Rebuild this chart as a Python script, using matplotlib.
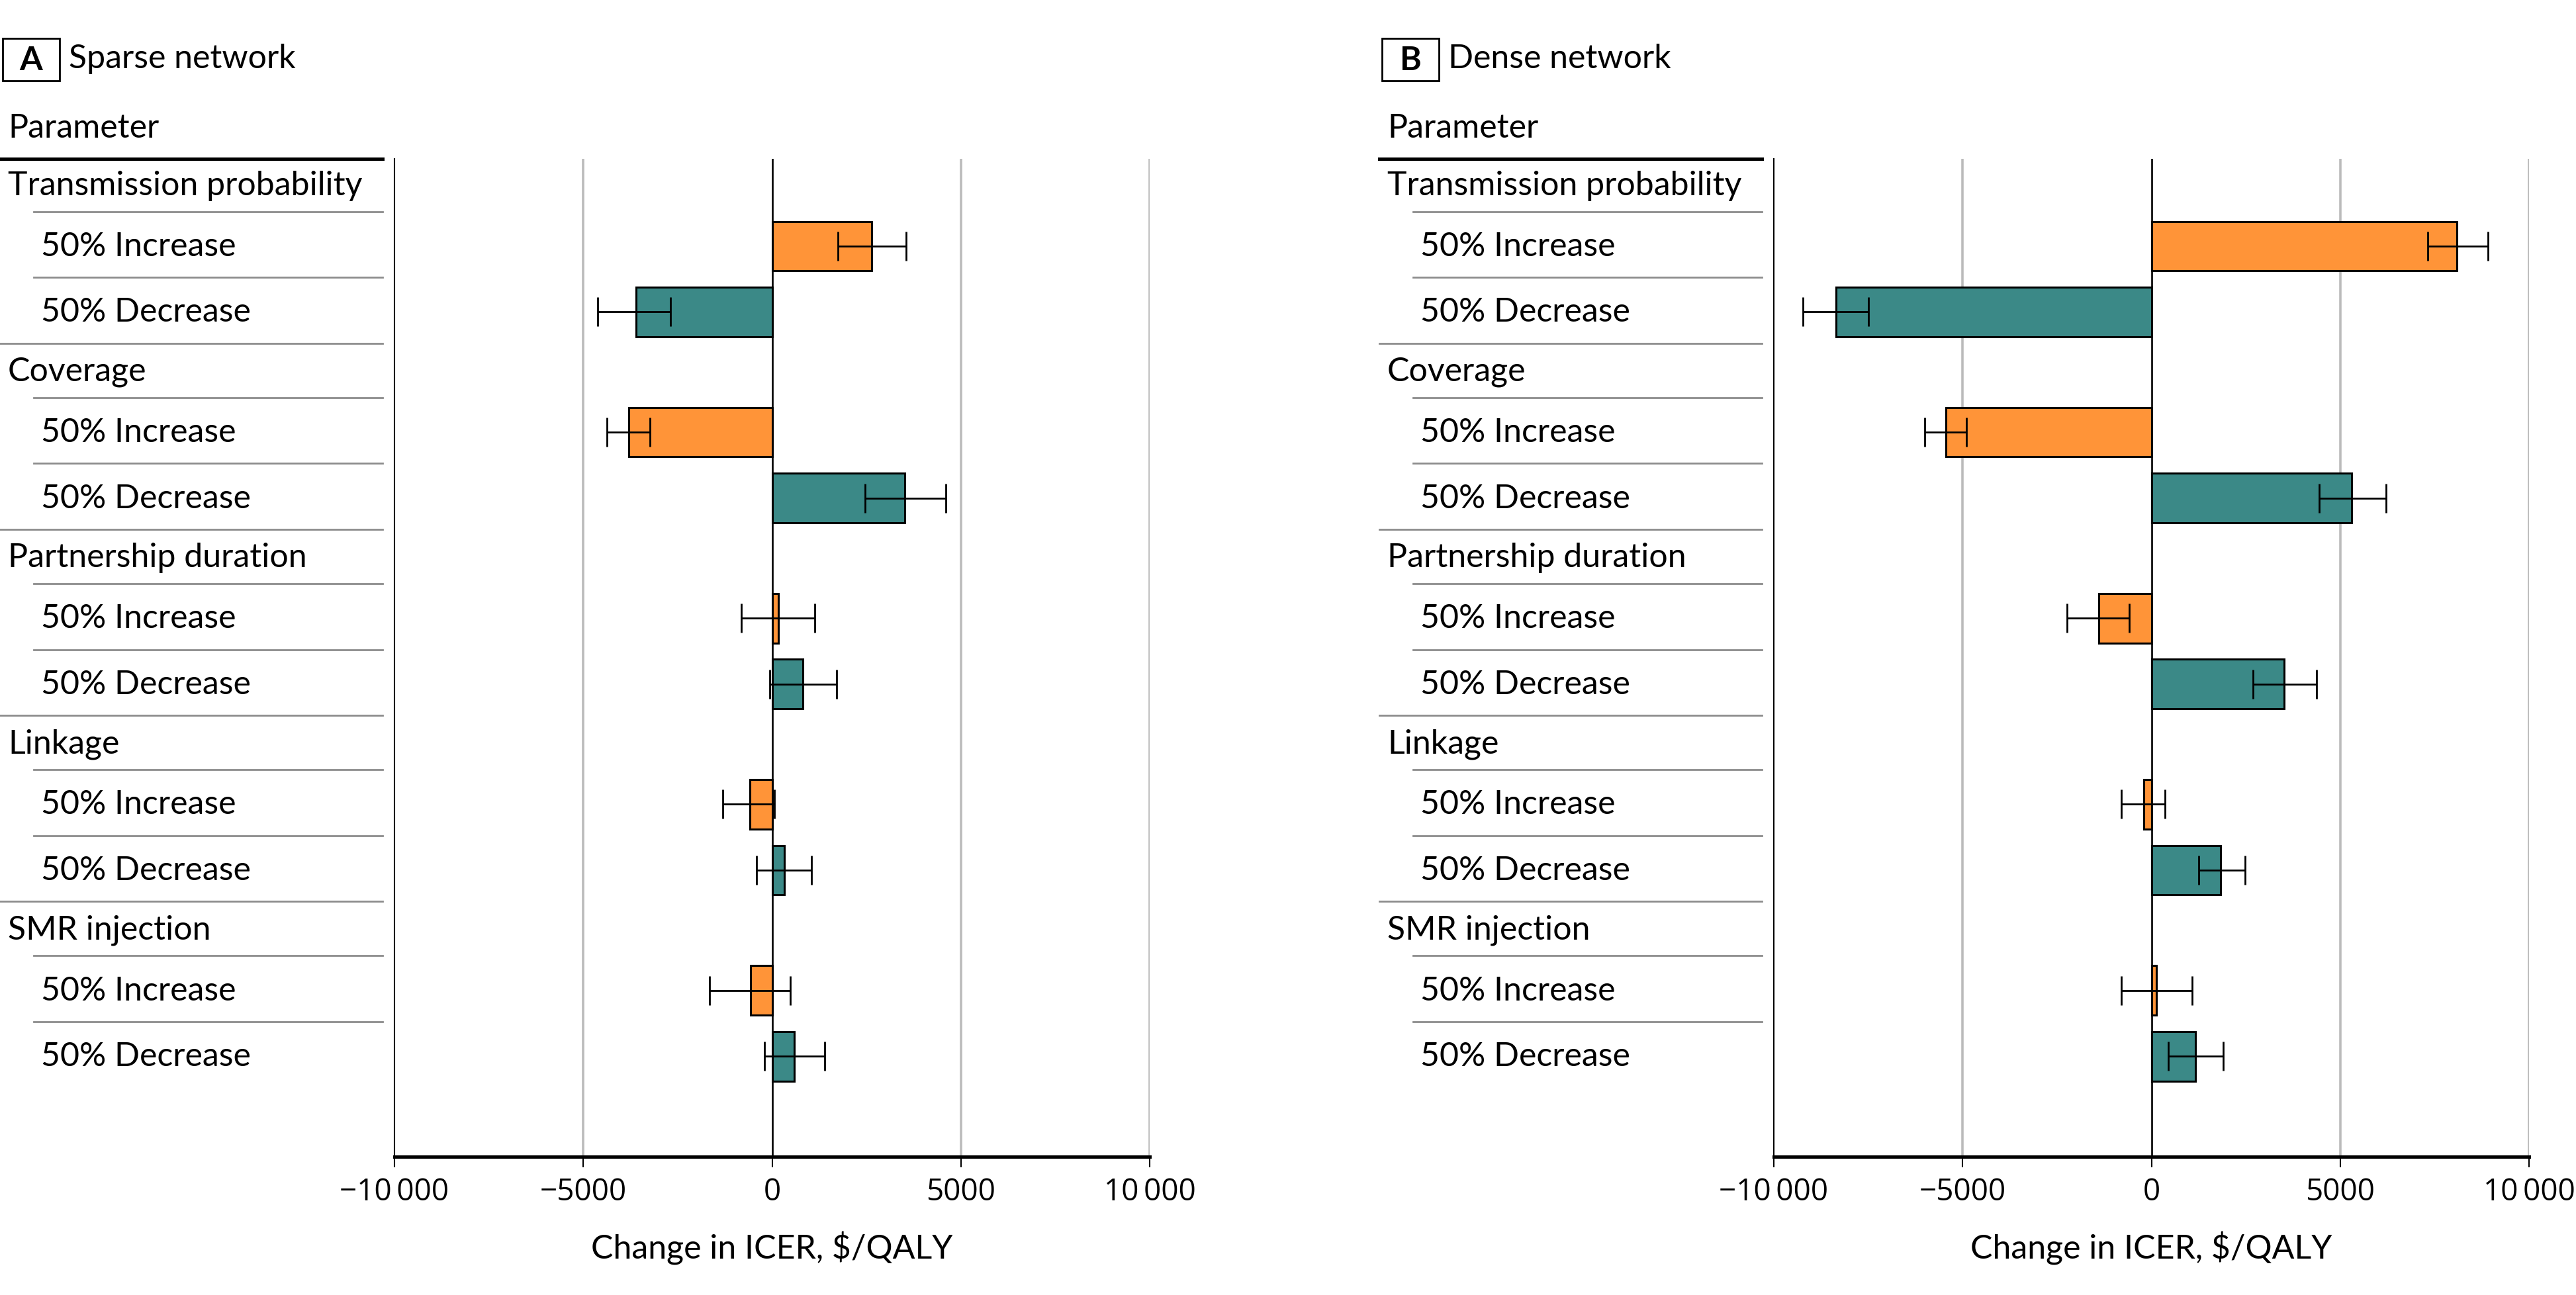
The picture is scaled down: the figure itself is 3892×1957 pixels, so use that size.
import numpy as np
import matplotlib
matplotlib.use("Agg")
import matplotlib.pyplot as plt
import matplotlib.transforms as mtransforms
from matplotlib.lines import Line2D
from matplotlib.patches import Rectangle

plt.rcParams["font.family"] = ["Lato", "DejaVu Sans"]

parameters = ["Transmission probability", "Coverage", "Partnership duration", "Linkage", "SMR injection"]
sub_labels = ["50% Increase", "50% Decrease"]
panel_letters = ["A", "B"]
panel_titles = ["Sparse network", "Dense network"]
x_ticks = [-10000, -5000, 0, 5000, 10000]
x_tick_labels = ["\u221210\u2009000", "\u22125000", "0", "5000", "10\u2009000"]

# sparse network: change in ICER with error bar ends
sparse_inc = [2640, -3790, 160, -595, -575]
sparse_inc_lo = [1750, -4370, -815, -1310, -1665]
sparse_inc_hi = [3545, -3235, 1125, 70, 475]
sparse_dec = [-3600, 3515, 815, 320, 580]
sparse_dec_lo = [-4620, 2470, -60, -405, -195]
sparse_dec_hi = [-2685, 4600, 1705, 1035, 1390]

# dense network
dense_inc = [8090, -5440, -1400, -205, 130]
dense_inc_lo = [7315, -6000, -2230, -800, -800]
dense_inc_hi = [8910, -4895, -580, 355, 1085]
dense_dec = [-8350, 5300, 3510, 1825, 1165]
dense_dec_lo = [-9230, 4440, 2685, 1245, 440]
dense_dec_hi = [-7490, 6210, 4370, 2475, 1895]

ORANGE = "#FF9438"
TEAL = "#3B8987"
GRID = "#BBBBBB"
RULE = "#8C8C8C"

W, H = 3892, 1958
fig = plt.figure(figsize=(W / 100, H / 100), dpi=100)

FS = 36
pitch = 2.825
inc_off, dec_off = 0.925, 1.925
bar_h = 0.75


def fx(px):
    return px / W


def fy(px):
    return 1 - px / H


def draw_panel(ox, letter, title, inc, inc_lo, inc_hi, dec, dec_lo, dec_hi):
    ax = fig.add_axes([fx(ox + 596), fy(1749), fx(1141), (1749 - 241) / H])
    n = len(parameters)
    g = np.arange(n) * pitch
    y_inc = g + inc_off
    y_dec = g + dec_off
    inc = np.array(inc)
    dec = np.array(dec)
    xerr_inc = [inc - np.array(inc_lo), np.array(inc_hi) - inc]
    xerr_dec = [dec - np.array(dec_lo), np.array(dec_hi) - dec]

    for v in [-5000, 5000, 10000]:
        ax.axvline(v, color=GRID, lw=2.6, zorder=0)
    ax.barh(y_inc, inc, height=bar_h, color=ORANGE, edgecolor="black", lw=2.2, zorder=2)
    ax.barh(y_dec, dec, height=bar_h, color=TEAL, edgecolor="black", lw=2.2, zorder=2)
    ax.axvline(0, color="black", lw=1.9, zorder=3)
    ax.errorbar(inc, y_inc, xerr=xerr_inc, fmt="none", ecolor="black", elinewidth=2.0,
                capsize=16, capthick=2.0, zorder=4)
    ax.errorbar(dec, y_dec, xerr=xerr_dec, fmt="none", ecolor="black", elinewidth=2.0,
                capsize=16, capthick=2.0, zorder=4)

    ax.set_xlim(-10000, 10000)
    ax.set_ylim(14.75, -0.4)
    ax.set_yticks([])
    ax.set_xticks(x_ticks)
    ax.set_xticklabels(x_tick_labels, fontsize=33, family=["Open Sans", "DejaVu Sans"])
    ax.tick_params(axis="x", length=11.5, width=1.5, pad=10, color="black")
    for s in ["top", "right"]:
        ax.spines[s].set_visible(False)
    ax.spines["left"].set_linewidth(1.5)
    ax.spines["bottom"].set_linewidth(3.6)

    fig.text(fx(ox + 596 + 570), fy(1887), "Change in ICER, \\$/QALY", fontsize=FS,
             ha="center", va="center")

    # label table on the left
    tr = mtransforms.blended_transform_factory(fig.transFigure, ax.transData)
    for i, name in enumerate(parameters):
        ax.text(fx(ox + 12), g[i], name, transform=tr, fontsize=FS, va="center", ha="left", clip_on=False)
        ax.text(fx(ox + 62), y_inc[i], sub_labels[0], transform=tr, fontsize=FS, va="center", clip_on=False)
        ax.text(fx(ox + 62), y_dec[i], sub_labels[1], transform=tr, fontsize=FS, va="center", clip_on=False)
        for yy in [g[i] + 0.4, g[i] + 1.4]:
            fig.add_artist(Line2D([fx(ox + 51), fx(ox + 578)], [yy, yy], transform=tr, color=RULE, lw=2.0))
        if i < n - 1:
            yy = g[i] + 2.4
            fig.add_artist(Line2D([fx(ox), fx(ox + 578)], [yy, yy], transform=tr, color=RULE, lw=2.0))

    fig.add_artist(Line2D([fx(ox), fx(ox + 578)], [fy(241), fy(241)], color="black", lw=3.6))
    fig.text(fx(ox + 12), fy(194), "Parameter", fontsize=FS, va="center", ha="left")

    # panel title with boxed letter
    fig.add_artist(Rectangle((fx(ox + 4), fy(123)), fx(86), 64 / H, transform=fig.transFigure,
                             fill=False, ec="black", lw=2.0))
    fig.text(fx(ox + 47), fy(91), letter, fontsize=FS, weight="bold", ha="center", va="center")
    fig.text(fx(ox + 104), fy(89), title, fontsize=FS, ha="left", va="center")
    return ax


draw_panel(0, panel_letters[0], panel_titles[0], sparse_inc, sparse_inc_lo, sparse_inc_hi,
           sparse_dec, sparse_dec_lo, sparse_dec_hi)
draw_panel(2084, panel_letters[1], panel_titles[1], dense_inc, dense_inc_lo, dense_inc_hi,
           dense_dec, dense_dec_lo, dense_dec_hi)

fig.savefig("out.png", dpi=100)
